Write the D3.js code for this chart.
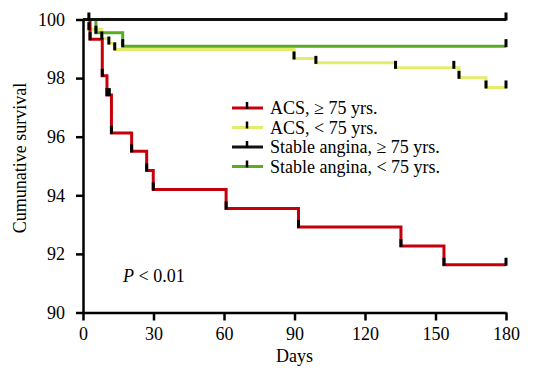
<!DOCTYPE html>
<html>
<head>
<meta charset="utf-8">
<script src="https://cdn.jsdelivr.net/npm/d3@7"></script>
<style>
  body { margin: 0; background: #fff; }
  svg text { font-family: "Liberation Serif", "Times New Roman", serif; }
</style>
</head>
<body>
<div id="chart-area"></div>
<script>
// Kaplan-Meier data

const xTicks = [0, 30, 60, 90, 120, 150, 180]
const yTicks = [90, 92, 94, 96, 98, 100]

const groupNames = ["ACS, \u2265 75 yrs.", "ACS, < 75 yrs.", "Stable angina, \u2265 75 yrs.", "Stable angina, < 75 yrs."]
const groupColors = ["#c4000b", "#e4ec6c", "#111111", "#5cab27"]

// ACS >= 75
const acsOldDays = [0, 3, 8.2, 10.2, 12.1, 20.7, 27.1, 29.9, 60.9, 91.7, 135.3, 153.6, 180]
const acsOldSurv = [100, 99.33, 98.08, 97.42, 96.13, 95.5, 94.85, 94.2, 93.55, 92.92, 92.27, 91.63, 91.63]
const acsOldCens = [3, 8.2, 10.2, 11.2, 12.1, 20.7, 27.1, 29.9, 60.9, 91.7, 135.3, 153.6, 180]

// ACS < 75
const acsYoungDays = [0, 2.5, 8, 11, 13.5, 89.8, 99.1, 133, 160, 171.5, 180]
const acsYoungSurv = [100, 99.67, 99.35, 99.18, 98.98, 98.67, 98.52, 98.35, 98.01, 97.68, 97.68]
const acsYoungCens = [2.5, 8, 11, 13.5, 89.8, 99.1, 133, 157.8, 160, 171.5, 180]

// stable angina >= 75
const saOldDays = [0, 180]
const saOldSurv = [100, 100]
const saOldCens = [180]

// stable angina < 75
const saYoungDays = [0, 5.5, 16.9, 180]
const saYoungSurv = [100, 99.55, 99.09, 99.09]
const saYoungCens = [2.5, 5.5, 16.9, 180]

const width = 540, height = 371
const x0 = 83, x1 = 506, yTop = 19.5, yBot = 312.5

let svg = d3.select("#chart-area").append("svg")
            .attr("width", width)
            .attr("height", height)

let x = d3.scaleLinear().domain([0, 180]).range([x0, x1])
let y = d3.scaleLinear().domain([90, 100]).range([yBot, yTop])

// axes
let xAxis = svg.append("g")
  .attr("transform", "translate(0," + yBot + ")")
  .call(d3.axisBottom(x).tickValues(xTicks).tickSize(8).tickPadding(7).tickSizeOuter(0))
let yAxis = svg.append("g")
  .attr("transform", "translate(" + x0 + ",0)")
  .call(d3.axisLeft(y).tickValues(yTicks).tickSize(7).tickPadding(11).tickSizeOuter(0))

svg.selectAll(".domain, .tick line")
   .attr("stroke", "#000")
   .attr("stroke-width", 2.5)
svg.selectAll(".tick text")
   .attr("font-size", 18)
   .attr("fill", "#000")
   .style("font-family", "Liberation Serif, serif")

svg.append("text")
   .attr("x", (x0 + x1) / 2)
   .attr("y", 362)
   .attr("text-anchor", "middle")
   .attr("font-size", 18)
   .text("Days")

svg.append("text")
   .attr("transform", "translate(26," + 158 + ") rotate(-90)")
   .attr("text-anchor", "middle")
   .attr("font-size", 18)
   .text("Cumunative survival")

let pText = svg.append("text")
   .attr("x", 123)
   .attr("y", 282)
   .attr("font-size", 18)
pText.append("tspan").attr("font-style", "italic").text("P")
pText.append("tspan").text(" < 0.01")

// curves
const series = [
  { days: acsYoungDays, surv: acsYoungSurv, cens: acsYoungCens, color: groupColors[1] },
  { days: saYoungDays, surv: saYoungSurv, cens: saYoungCens, color: groupColors[3] },
  { days: acsOldDays, surv: acsOldSurv, cens: acsOldCens, color: groupColors[0] },
  { days: saOldDays, surv: saOldSurv, cens: saOldCens, color: groupColors[2] }
]

let line = d3.line()
  .x(d => x(d[0]))
  .y(d => y(d[1]))
  .curve(d3.curveStepAfter)

// survival at a given day
function survAt(s, t) {
  let v = s.surv[0]
  s.days.forEach((d, i) => { if (d <= t) v = s.surv[i] })
  return v
}

series.forEach(s => {
  let pts = s.days.map((d, i) => [d, s.surv[i]])
  svg.append("path")
     .attr("d", line(pts))
     .attr("fill", "none")
     .attr("stroke", s.color)
     .attr("stroke-width", 3)
})

series.forEach(s => {
  svg.selectAll(null)
     .data(s.cens)
     .enter()
     .append("line")
     .attr("x1", d => x(d))
     .attr("x2", d => x(d))
     .attr("y1", d => y(survAt(s, d)) + 1)
     .attr("y2", d => y(survAt(s, d)) - 7)
     .attr("stroke", "#000")
     .attr("stroke-width", 3)
})

// legend
let legend = svg.selectAll(".legend")
  .data(groupNames)
  .enter()
  .append("g")
  .attr("transform", (d, i) => "translate(232," + (108 + i * 19.5) + ")")

legend.append("line")
  .attr("x1", 0).attr("x2", 31)
  .attr("y1", 0).attr("y2", 0)
  .attr("stroke", (d, i) => groupColors[i])
  .attr("stroke-width", 3)
legend.append("line")
  .attr("x1", 15).attr("x2", 15)
  .attr("y1", 1).attr("y2", -6)
  .attr("stroke", "#000")
  .attr("stroke-width", 2.5)
legend.append("text")
  .attr("x", 38)
  .attr("y", 6)
  .attr("font-size", 18)
  .text(d => d)
</script>
</body>
</html>
